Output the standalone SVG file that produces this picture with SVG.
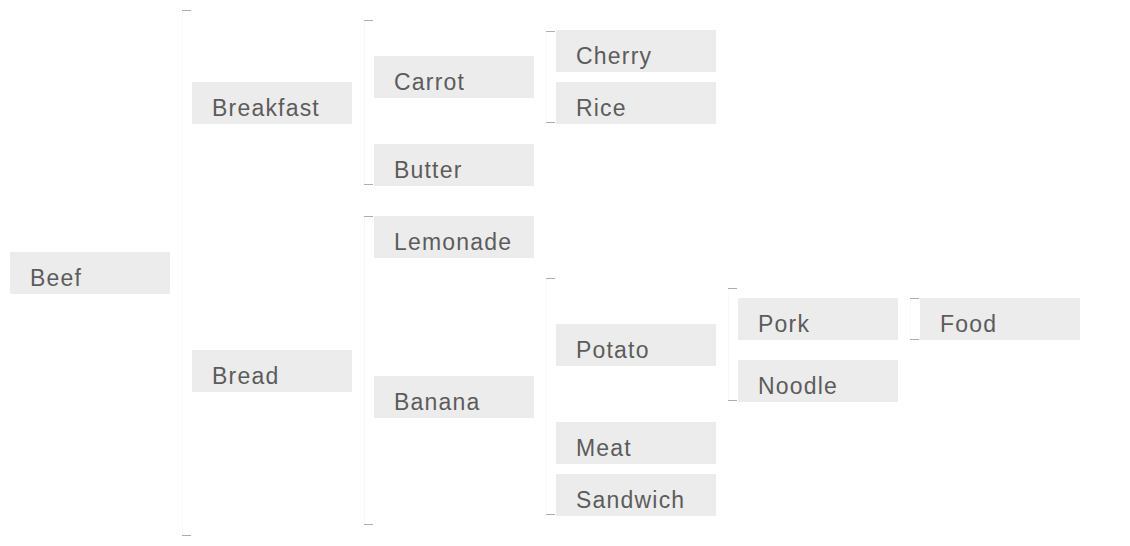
<svg xmlns="http://www.w3.org/2000/svg" width="1130" height="546" viewBox="0 0 1130 546">
<style>
.box{fill:#ececec}
.lbl{font-family:"Liberation Sans",Arial,sans-serif;font-size:23px;letter-spacing:1.2px;fill:#5c5c5c}
.vline{fill:none;stroke:#f9f9f9;stroke-width:1}
.tick{fill:none;stroke:#adadad;stroke-width:1.2}
</style>
<rect width="1130" height="546" fill="#ffffff"/>
<g id="connectors">
  <path class="vline" d="M182.5,10.5 V535.5"/><path class="tick" d="M182,10.5 H191 M182,535.5 H191"/>
  <path class="vline" d="M364.5,20.5 V184.5"/><path class="tick" d="M364,20.5 H373 M364,184.5 H373"/>
  <path class="vline" d="M364.5,216.5 V524.5"/><path class="tick" d="M364,216.5 H373 M364,524.5 H373"/>
  <path class="vline" d="M546.5,31.5 V122.5"/><path class="tick" d="M546,31.5 H555 M546,122.5 H555"/>
  <path class="vline" d="M546.5,278.5 V514.5"/><path class="tick" d="M546,278.5 H555 M546,514.5 H555"/>
  <path class="vline" d="M728.5,288.5 V400.5"/><path class="tick" d="M728,288.5 H737 M728,400.5 H737"/>
  <path class="vline" d="M910.5,298.5 V339.5"/><path class="tick" d="M910,298.5 H919 M910,339.5 H919"/>
</g>
<g id="beef"><rect class="box" x="10" y="252" width="160" height="42"/><text class="lbl" x="30" y="286">Beef</text></g>
<g id="breakfast"><rect class="box" x="192" y="82" width="160" height="42"/><text class="lbl" x="212" y="116">Breakfast</text></g>
<g id="bread"><rect class="box" x="192" y="350" width="160" height="42"/><text class="lbl" x="212" y="384">Bread</text></g>
<g id="carrot"><rect class="box" x="374" y="56" width="160" height="42"/><text class="lbl" x="394" y="90">Carrot</text></g>
<g id="butter"><rect class="box" x="374" y="144" width="160" height="42"/><text class="lbl" x="394" y="178">Butter</text></g>
<g id="lemonade"><rect class="box" x="374" y="216" width="160" height="42"/><text class="lbl" x="394" y="250">Lemonade</text></g>
<g id="banana"><rect class="box" x="374" y="376" width="160" height="42"/><text class="lbl" x="394" y="410">Banana</text></g>
<g id="cherry"><rect class="box" x="556" y="30" width="160" height="42"/><text class="lbl" x="576" y="64">Cherry</text></g>
<g id="rice"><rect class="box" x="556" y="82" width="160" height="42"/><text class="lbl" x="576" y="116">Rice</text></g>
<g id="potato"><rect class="box" x="556" y="324" width="160" height="42"/><text class="lbl" x="576" y="358">Potato</text></g>
<g id="meat"><rect class="box" x="556" y="422" width="160" height="42"/><text class="lbl" x="576" y="456">Meat</text></g>
<g id="sandwich"><rect class="box" x="556" y="474" width="160" height="42"/><text class="lbl" x="576" y="508">Sandwich</text></g>
<g id="pork"><rect class="box" x="738" y="298" width="160" height="42"/><text class="lbl" x="758" y="332">Pork</text></g>
<g id="noodle"><rect class="box" x="738" y="360" width="160" height="42"/><text class="lbl" x="758" y="394">Noodle</text></g>
<g id="food"><rect class="box" x="920" y="298" width="160" height="42"/><text class="lbl" x="940" y="332">Food</text></g>
</svg>
